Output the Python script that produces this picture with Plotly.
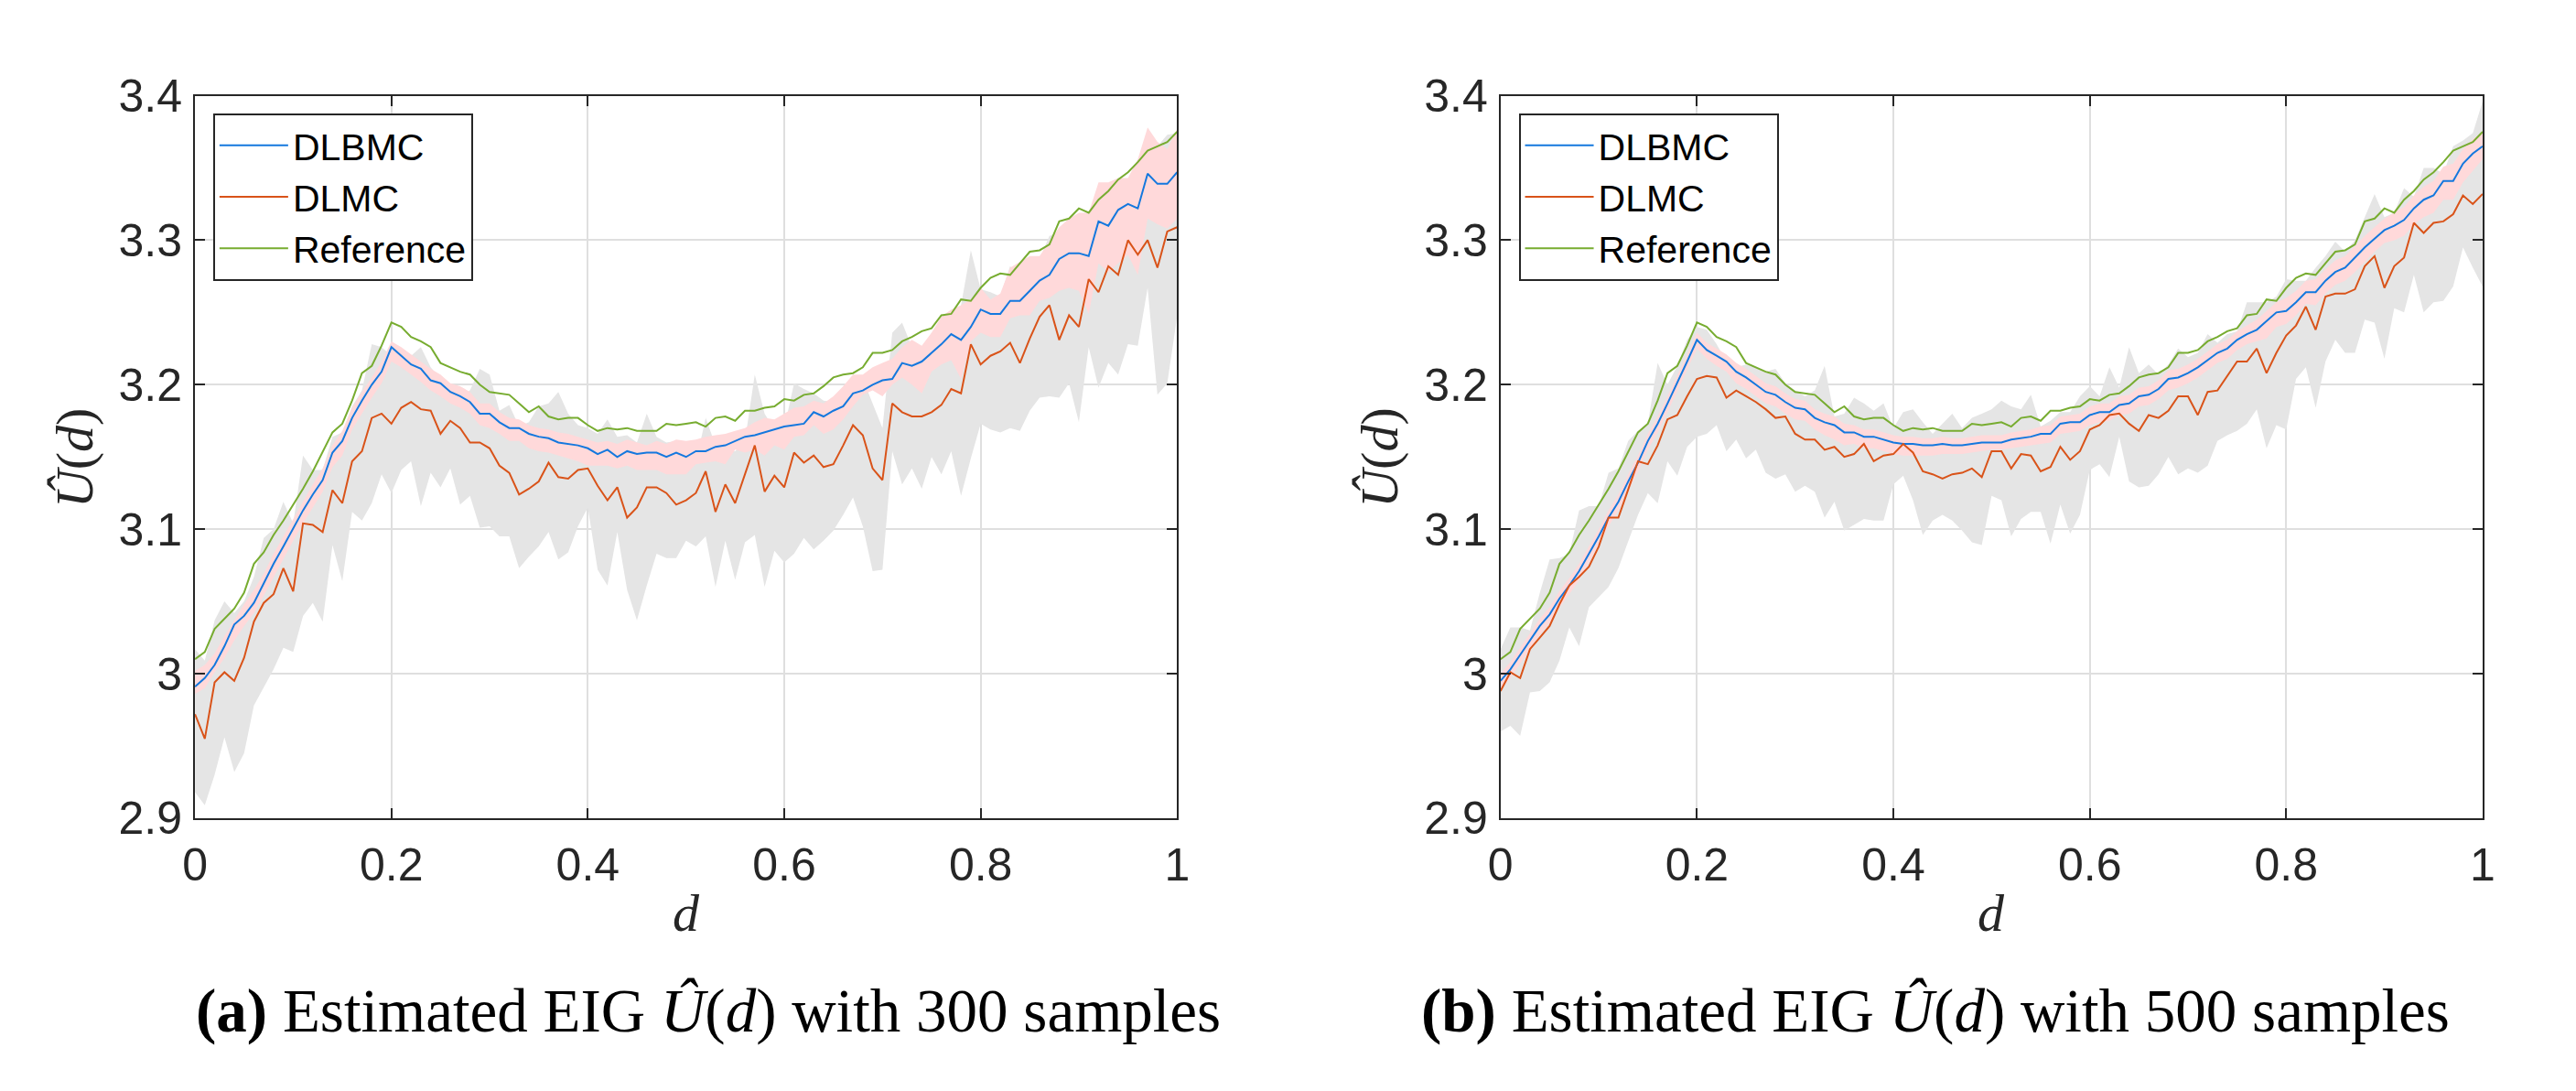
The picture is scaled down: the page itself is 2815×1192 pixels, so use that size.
import plotly.graph_objects as go

# %% data (design d in [0, 1] with step 0.01)
d = [0.00, 0.01, 0.02, 0.03, 0.04, 0.05, 0.06, 0.07, 0.08, 0.09,
     0.10, 0.11, 0.12, 0.13, 0.14, 0.15, 0.16, 0.17, 0.18, 0.19,
     0.20, 0.21, 0.22, 0.23, 0.24, 0.25, 0.26, 0.27, 0.28, 0.29,
     0.30, 0.31, 0.32, 0.33, 0.34, 0.35, 0.36, 0.37, 0.38, 0.39,
     0.40, 0.41, 0.42, 0.43, 0.44, 0.45, 0.46, 0.47, 0.48, 0.49,
     0.50, 0.51, 0.52, 0.53, 0.54, 0.55, 0.56, 0.57, 0.58, 0.59,
     0.60, 0.61, 0.62, 0.63, 0.64, 0.65, 0.66, 0.67, 0.68, 0.69,
     0.70, 0.71, 0.72, 0.73, 0.74, 0.75, 0.76, 0.77, 0.78, 0.79,
     0.80, 0.81, 0.82, 0.83, 0.84, 0.85, 0.86, 0.87, 0.88, 0.89,
     0.90, 0.91, 0.92, 0.93, 0.94, 0.95, 0.96, 0.97, 0.98, 0.99,
     1.00]

reference = [3.010, 3.015, 3.031, 3.038, 3.045, 3.056, 3.076, 3.084, 3.096, 3.106,
             3.117, 3.128, 3.140, 3.154, 3.167, 3.173, 3.189, 3.208, 3.213, 3.227,
             3.243, 3.240, 3.233, 3.230, 3.226, 3.215, 3.212, 3.209, 3.207, 3.200,
             3.195, 3.194, 3.193, 3.187, 3.181, 3.185, 3.178, 3.176, 3.177, 3.177,
             3.172, 3.168, 3.170, 3.169, 3.170, 3.168, 3.168, 3.168, 3.173, 3.172,
             3.173, 3.174, 3.171, 3.177, 3.178, 3.175, 3.182, 3.182, 3.184, 3.185,
             3.190, 3.189, 3.193, 3.194, 3.199, 3.205, 3.207, 3.208, 3.212, 3.222,
             3.222, 3.224, 3.230, 3.233, 3.237, 3.239, 3.248, 3.249, 3.259, 3.258,
             3.267, 3.274, 3.277, 3.276, 3.284, 3.292, 3.293, 3.297, 3.313, 3.315,
             3.322, 3.319, 3.328, 3.334, 3.342, 3.347, 3.354, 3.362, 3.365, 3.368,
             3.375]

# (a) 300 samples
dlbmc_300 = [2.991, 2.997, 3.006, 3.019, 3.034, 3.040, 3.049, 3.063, 3.076, 3.088,
             3.101, 3.113, 3.124, 3.134, 3.153, 3.161, 3.177, 3.189, 3.200, 3.209,
             3.226, 3.220, 3.214, 3.211, 3.203, 3.201, 3.195, 3.192, 3.188, 3.180,
             3.180, 3.174, 3.170, 3.170, 3.166, 3.164, 3.163, 3.160, 3.159, 3.158,
             3.156, 3.152, 3.155, 3.150, 3.154, 3.152, 3.153, 3.153, 3.150, 3.153,
             3.150, 3.154, 3.154, 3.157, 3.158, 3.161, 3.164, 3.165, 3.167, 3.169,
             3.171, 3.172, 3.173, 3.181, 3.178, 3.182, 3.185, 3.194, 3.196, 3.200,
             3.203, 3.204, 3.215, 3.213, 3.216, 3.222, 3.228, 3.235, 3.231, 3.240,
             3.252, 3.249, 3.249, 3.258, 3.258, 3.265, 3.272, 3.276, 3.287, 3.291,
             3.291, 3.289, 3.313, 3.310, 3.321, 3.325, 3.322, 3.346, 3.339, 3.339,
             3.347]
dlmc_300 = [2.972, 2.955, 2.994, 3.001, 2.995, 3.011, 3.036, 3.049, 3.055, 3.073,
            3.057, 3.104, 3.103, 3.098, 3.127, 3.118, 3.147, 3.154, 3.177, 3.180,
            3.173, 3.184, 3.188, 3.183, 3.182, 3.166, 3.175, 3.170, 3.160, 3.160,
            3.156, 3.144, 3.139, 3.124, 3.128, 3.133, 3.146, 3.136, 3.135, 3.141,
            3.142, 3.130, 3.120, 3.129, 3.108, 3.115, 3.129, 3.129, 3.125, 3.117,
            3.120, 3.125, 3.140, 3.112, 3.131, 3.118, 3.138, 3.158, 3.126, 3.137,
            3.129, 3.153, 3.146, 3.151, 3.143, 3.145, 3.158, 3.172, 3.165, 3.142,
            3.134, 3.187, 3.181, 3.178, 3.178, 3.181, 3.186, 3.197, 3.194, 3.228,
            3.214, 3.220, 3.223, 3.229, 3.215, 3.232, 3.247, 3.255, 3.231, 3.248,
            3.240, 3.273, 3.264, 3.282, 3.276, 3.300, 3.290, 3.300, 3.281, 3.306,
            3.309]
dlmc_300_hi = [3.017, 3.009, 3.037, 3.050, 3.042, 3.050, 3.067, 3.094, 3.100, 3.119,
               3.104, 3.151, 3.141, 3.141, 3.164, 3.167, 3.185, 3.196, 3.228, 3.226,
               3.220, 3.222, 3.220, 3.226, 3.212, 3.204, 3.197, 3.192, 3.196, 3.211,
               3.207, 3.182, 3.186, 3.171, 3.174, 3.185, 3.187, 3.195, 3.180, 3.172,
               3.170, 3.166, 3.176, 3.164, 3.165, 3.160, 3.180, 3.164, 3.160, 3.161,
               3.142, 3.146, 3.177, 3.158, 3.155, 3.154, 3.161, 3.207, 3.180, 3.169,
               3.170, 3.201, 3.197, 3.194, 3.189, 3.188, 3.196, 3.204, 3.204, 3.187,
               3.170, 3.236, 3.243, 3.226, 3.215, 3.218, 3.228, 3.240, 3.255, 3.293,
               3.266, 3.264, 3.261, 3.282, 3.274, 3.287, 3.287, 3.303, 3.305, 3.310,
               3.316, 3.315, 3.336, 3.337, 3.340, 3.340, 3.352, 3.375, 3.365, 3.373,
               3.374]
dlmc_300_lo = [2.918, 2.909, 2.930, 2.956, 2.932, 2.945, 2.978, 2.990, 3.003, 3.018,
               3.015, 3.040, 3.049, 3.036, 3.089, 3.064, 3.112, 3.106, 3.118, 3.138,
               3.125, 3.141, 3.147, 3.116, 3.139, 3.129, 3.142, 3.117, 3.123, 3.101,
               3.102, 3.095, 3.095, 3.073, 3.081, 3.088, 3.098, 3.079, 3.084, 3.102,
               3.115, 3.072, 3.061, 3.098, 3.058, 3.037, 3.061, 3.083, 3.080, 3.080,
               3.092, 3.088, 3.095, 3.060, 3.092, 3.065, 3.091, 3.096, 3.060, 3.085,
               3.077, 3.083, 3.094, 3.086, 3.092, 3.099, 3.110, 3.122, 3.102, 3.071,
               3.072, 3.154, 3.131, 3.142, 3.128, 3.150, 3.138, 3.154, 3.123, 3.149,
               3.173, 3.169, 3.167, 3.170, 3.168, 3.182, 3.191, 3.192, 3.191, 3.201,
               3.174, 3.226, 3.198, 3.215, 3.207, 3.228, 3.227, 3.267, 3.193, 3.201,
               3.247]
dlbmc_300_hi = [3.002, 3.006, 3.014, 3.026, 3.037, 3.048, 3.058, 3.069, 3.083, 3.095,
                3.107, 3.119, 3.131, 3.142, 3.158, 3.168, 3.184, 3.195, 3.205, 3.216,
                3.230, 3.226, 3.221, 3.216, 3.211, 3.207, 3.201, 3.199, 3.195, 3.187,
                3.187, 3.181, 3.177, 3.176, 3.172, 3.170, 3.169, 3.167, 3.166, 3.164,
                3.162, 3.160, 3.161, 3.159, 3.162, 3.160, 3.158, 3.161, 3.159, 3.162,
                3.161, 3.162, 3.164, 3.165, 3.166, 3.168, 3.170, 3.174, 3.177, 3.176,
                3.180, 3.184, 3.185, 3.189, 3.187, 3.192, 3.199, 3.207, 3.207, 3.212,
                3.215, 3.218, 3.226, 3.231, 3.227, 3.236, 3.247, 3.252, 3.255, 3.259,
                3.267, 3.259, 3.263, 3.281, 3.285, 3.289, 3.289, 3.299, 3.309, 3.315,
                3.319, 3.319, 3.340, 3.340, 3.343, 3.343, 3.356, 3.378, 3.368, 3.363,
                3.377]
dlbmc_300_lo = [2.986, 2.990, 3.001, 3.011, 3.023, 3.033, 3.042, 3.054, 3.067, 3.079,
                3.092, 3.104, 3.115, 3.126, 3.143, 3.151, 3.169, 3.180, 3.191, 3.201,
                3.216, 3.212, 3.207, 3.202, 3.196, 3.192, 3.187, 3.184, 3.180, 3.172,
                3.170, 3.166, 3.161, 3.161, 3.156, 3.154, 3.153, 3.151, 3.149, 3.147,
                3.144, 3.144, 3.144, 3.142, 3.144, 3.141, 3.141, 3.141, 3.138, 3.138,
                3.138, 3.145, 3.146, 3.147, 3.145, 3.155, 3.153, 3.155, 3.151, 3.158,
                3.155, 3.164, 3.165, 3.172, 3.166, 3.169, 3.176, 3.185, 3.193, 3.196,
                3.192, 3.200, 3.205, 3.200, 3.194, 3.209, 3.214, 3.217, 3.204, 3.230,
                3.236, 3.233, 3.233, 3.246, 3.248, 3.248, 3.258, 3.260, 3.265, 3.267,
                3.265, 3.249, 3.284, 3.278, 3.284, 3.290, 3.276, 3.315, 3.311, 3.308,
                3.315]

# (b) 500 samples
dlbmc_500 = [2.995, 3.003, 3.013, 3.023, 3.033, 3.041, 3.052, 3.061, 3.071, 3.083,
             3.095, 3.108, 3.119, 3.133, 3.146, 3.161, 3.173, 3.187, 3.201, 3.216,
             3.231, 3.224, 3.220, 3.216, 3.209, 3.205, 3.200, 3.195, 3.193, 3.188,
             3.184, 3.183, 3.177, 3.174, 3.172, 3.167, 3.167, 3.164, 3.164, 3.162,
             3.160, 3.159, 3.159, 3.158, 3.158, 3.159, 3.158, 3.158, 3.159, 3.160,
             3.160, 3.160, 3.162, 3.163, 3.164, 3.166, 3.166, 3.173, 3.174, 3.174,
             3.179, 3.181, 3.181, 3.186, 3.187, 3.192, 3.193, 3.197, 3.204, 3.205,
             3.208, 3.212, 3.217, 3.222, 3.225, 3.231, 3.235, 3.238, 3.244, 3.250,
             3.251, 3.257, 3.264, 3.264, 3.272, 3.278, 3.281, 3.288, 3.295, 3.301,
             3.307, 3.310, 3.314, 3.322, 3.328, 3.331, 3.341, 3.341, 3.353, 3.360,
             3.365]
dlmc_500 = [2.988, 3.001, 2.997, 3.017, 3.025, 3.033, 3.048, 3.061, 3.067, 3.074,
            3.088, 3.108, 3.108, 3.127, 3.147, 3.145, 3.158, 3.176, 3.179, 3.192,
            3.204, 3.206, 3.205, 3.191, 3.196, 3.192, 3.188, 3.183, 3.177, 3.178,
            3.166, 3.162, 3.162, 3.155, 3.157, 3.150, 3.152, 3.159, 3.147, 3.151,
            3.152, 3.159, 3.153, 3.140, 3.138, 3.135, 3.138, 3.139, 3.142, 3.136,
            3.154, 3.154, 3.142, 3.152, 3.151, 3.140, 3.143, 3.157, 3.148, 3.154,
            3.169, 3.172, 3.179, 3.180, 3.173, 3.168, 3.179, 3.177, 3.182, 3.192,
            3.192, 3.179, 3.195, 3.196, 3.206, 3.216, 3.216, 3.225, 3.208, 3.222,
            3.234, 3.241, 3.254, 3.238, 3.261, 3.263, 3.263, 3.266, 3.282, 3.289,
            3.267, 3.282, 3.288, 3.312, 3.305, 3.312, 3.313, 3.318, 3.331, 3.325,
            3.332]
dlmc_500_hi = [3.017, 3.032, 3.032, 3.030, 3.056, 3.079, 3.080, 3.083, 3.113, 3.116,
               3.116, 3.139, 3.142, 3.161, 3.168, 3.173, 3.215, 3.200, 3.213, 3.231,
               3.240, 3.238, 3.228, 3.216, 3.212, 3.214, 3.212, 3.209, 3.211, 3.201,
               3.196, 3.192, 3.196, 3.213, 3.178, 3.180, 3.191, 3.187, 3.182, 3.187,
               3.170, 3.181, 3.183, 3.174, 3.166, 3.173, 3.180, 3.170, 3.177, 3.180,
               3.183, 3.189, 3.185, 3.183, 3.193, 3.171, 3.175, 3.181, 3.181, 3.192,
               3.199, 3.192, 3.212, 3.198, 3.226, 3.208, 3.214, 3.207, 3.214, 3.225,
               3.219, 3.222, 3.235, 3.229, 3.235, 3.237, 3.257, 3.257, 3.257, 3.261,
               3.273, 3.272, 3.272, 3.281, 3.289, 3.299, 3.292, 3.300, 3.316, 3.332,
               3.316, 3.319, 3.336, 3.330, 3.350, 3.350, 3.346, 3.365, 3.369, 3.374,
               3.396]
dlmc_500_lo = [2.960, 2.964, 2.957, 2.987, 2.988, 2.994, 3.009, 3.032, 3.019, 3.046,
               3.053, 3.060, 3.073, 3.091, 3.110, 3.125, 3.118, 3.147, 3.137, 3.157,
               3.164, 3.166, 3.172, 3.154, 3.162, 3.149, 3.155, 3.139, 3.135, 3.138,
               3.126, 3.130, 3.126, 3.108, 3.119, 3.099, 3.103, 3.107, 3.106, 3.106,
               3.131, 3.137, 3.120, 3.096, 3.106, 3.110, 3.106, 3.099, 3.091, 3.089,
               3.123, 3.120, 3.095, 3.107, 3.112, 3.112, 3.090, 3.117, 3.097, 3.110,
               3.141, 3.145, 3.136, 3.164, 3.133, 3.129, 3.130, 3.138, 3.150, 3.138,
               3.142, 3.139, 3.144, 3.161, 3.165, 3.168, 3.173, 3.183, 3.156, 3.172,
               3.169, 3.204, 3.212, 3.184, 3.216, 3.231, 3.222, 3.222, 3.245, 3.243,
               3.218, 3.253, 3.250, 3.276, 3.250, 3.257, 3.258, 3.268, 3.295, 3.281,
               3.268]
dlbmc_500_hi = [3.000, 3.008, 3.018, 3.028, 3.038, 3.046, 3.057, 3.066, 3.076, 3.088,
                3.100, 3.113, 3.124, 3.138, 3.151, 3.166, 3.178, 3.192, 3.206, 3.221,
                3.236, 3.229, 3.225, 3.221, 3.215, 3.211, 3.206, 3.201, 3.199, 3.194,
                3.190, 3.189, 3.183, 3.180, 3.178, 3.173, 3.172, 3.169, 3.169, 3.167,
                3.165, 3.164, 3.164, 3.163, 3.163, 3.164, 3.163, 3.163, 3.164, 3.165,
                3.165, 3.165, 3.167, 3.168, 3.169, 3.171, 3.172, 3.178, 3.179, 3.180,
                3.185, 3.187, 3.187, 3.192, 3.193, 3.198, 3.199, 3.203, 3.210, 3.211,
                3.214, 3.218, 3.223, 3.228, 3.231, 3.237, 3.241, 3.245, 3.251, 3.257,
                3.260, 3.265, 3.272, 3.273, 3.280, 3.286, 3.289, 3.296, 3.303, 3.309,
                3.315, 3.319, 3.323, 3.331, 3.337, 3.341, 3.351, 3.353, 3.363, 3.370,
                3.375]
dlbmc_500_lo = [2.989, 2.997, 3.007, 3.017, 3.027, 3.035, 3.046, 3.055, 3.065, 3.077,
                3.089, 3.102, 3.113, 3.127, 3.140, 3.155, 3.167, 3.181, 3.195, 3.210,
                3.225, 3.218, 3.213, 3.209, 3.201, 3.197, 3.192, 3.187, 3.185, 3.180,
                3.176, 3.175, 3.169, 3.165, 3.162, 3.158, 3.159, 3.156, 3.156, 3.154,
                3.152, 3.151, 3.151, 3.151, 3.151, 3.152, 3.152, 3.152, 3.153, 3.154,
                3.155, 3.155, 3.156, 3.157, 3.158, 3.159, 3.160, 3.166, 3.167, 3.168,
                3.172, 3.174, 3.175, 3.179, 3.180, 3.185, 3.186, 3.190, 3.196, 3.198,
                3.201, 3.205, 3.210, 3.215, 3.218, 3.224, 3.228, 3.230, 3.232, 3.240,
                3.242, 3.248, 3.256, 3.255, 3.263, 3.269, 3.272, 3.278, 3.285, 3.292,
                3.298, 3.300, 3.303, 3.311, 3.316, 3.319, 3.328, 3.328, 3.340, 3.348,
                3.356]

x_ticks = [0, 0.2, 0.4, 0.6, 0.8, 1]
y_ticks = [2.9, 3.0, 3.1, 3.2, 3.3, 3.4]
names = ['DLBMC', 'DLMC', 'Reference']
captions = ['<b>(a)</b> Estimated EIG <i>Û</i>(<i>d</i>) with 300 samples',
            '<b>(b)</b> Estimated EIG <i>Û</i>(<i>d</i>) with 500 samples']

# %% style
W, H = 2815, 1192
blue = 'rgb(20,120,222)'
orange = 'rgb(217,83,25)'
green = 'rgb(119,172,48)'
gray_fill = 'rgb(229,229,229)'
pink_fill = 'rgb(255,217,218)'
axis_col = 'rgb(38,38,38)'
sans = 'Liberation Sans, Arial, sans-serif'
serif = 'Liberation Serif, Times New Roman, serif'

panels = [
    dict(xa='x', ya='y', leg='legend',
         mean=dlbmc_300, raw=dlmc_300,
         band_b=(dlbmc_300_hi, dlbmc_300_lo), band_r=(dlmc_300_hi, dlmc_300_lo)),
    dict(xa='x2', ya='y2', leg='legend2',
         mean=dlbmc_500, raw=dlmc_500,
         band_b=(dlbmc_500_hi, dlbmc_500_lo), band_r=(dlmc_500_hi, dlmc_500_lo)),
]

fig = go.Figure()
for p in panels:
    # gray band of DLMC, pink band of DLBMC, then the three curves
    for (hi, lo), col in [(p['band_r'], gray_fill), (p['band_b'], pink_fill)]:
        fig.add_trace(go.Scatter(x=d + d[::-1], y=hi + lo[::-1], fill='toself',
                                 fillcolor=col, line=dict(width=0),
                                 mode='lines', hoverinfo='skip', showlegend=False,
                                 xaxis=p['xa'], yaxis=p['ya']))
    for y, col, nm in [(p['mean'], blue, names[0]), (p['raw'], orange, names[1]),
                       (reference, green, names[2])]:
        fig.add_trace(go.Scatter(x=d, y=y, mode='lines', name=nm,
                                 line=dict(color=col, width=2),
                                 xaxis=p['xa'], yaxis=p['ya'], legend=p['leg']))

# %% axes
x_dom = [[193 / W, 1277 / W], [1634 / W, 2718 / W]]
y_dom = [1 - 901 / H, 1 - 72 / H]
ax_common = dict(showline=True, linecolor=axis_col, linewidth=2, mirror='ticks',
                 ticks='inside', ticklen=11, tickwidth=2, tickcolor=axis_col,
                 showgrid=True, gridcolor='rgb(223,223,223)', gridwidth=1.5,
                 zeroline=False, layer='above traces',
                 tickfont=dict(family=sans, size=50, color=axis_col))
for i, (xk, yk) in enumerate([('xaxis', 'yaxis'), ('xaxis2', 'yaxis2')]):
    anchor_x = 'y' if i == 0 else 'y2'
    anchor_y = 'x' if i == 0 else 'x2'
    fig.update_layout({
        xk: dict(ax_common, domain=x_dom[i], range=[0, 1], tickvals=x_ticks,
                 anchor=anchor_x, ticklabelstandoff=6),
        yk: dict(ax_common, domain=y_dom, range=[2.9, 3.4], tickvals=y_ticks,
                 anchor=anchor_y, ticklabelstandoff=2),
    })

# %% legends
leg_common = dict(xanchor='left', yanchor='top', bgcolor='white',
                  bordercolor=axis_col, borderwidth=2,
                  font=dict(family=sans, size=41, color='black'),
                  itemwidth=75, traceorder='normal')
fig.update_layout(
    legend=dict(leg_common, x=213 / W, y=1 - 92 / H),
    legend2=dict(leg_common, x=1654 / W, y=1 - 92 / H),
)

# %% titles and captions as annotations
ann = []
for i in range(2):
    xc = (x_dom[i][0] + x_dom[i][1]) / 2
    ann.append(dict(text='<i>d</i>', x=xc, y=1 - 1010 / H, xref='paper', yref='paper',
                    xanchor='center', yanchor='middle', showarrow=False,
                    font=dict(family=serif, size=58, color=axis_col)))
    ann.append(dict(text='<i>Û</i>(<i>d</i>)', x=(60 + i * 1441) / W, y=1 - 487 / H,
                    xref='paper', yref='paper', textangle=-90, showarrow=False,
                    xanchor='center', yanchor='middle',
                    font=dict(family=serif, size=58, color=axis_col)))
    ann.append(dict(text=captions[i], x=(760 + i * 1354) / W, y=1 - 1122 / H,
                    xref='paper', yref='paper', showarrow=False,
                    xanchor='center', yanchor='middle',
                    font=dict(family=serif, size=67, color='black')))

fig.update_layout(width=W, height=H, margin=dict(l=0, r=0, t=0, b=0),
                  paper_bgcolor='white', plot_bgcolor='white',
                  annotations=ann, showlegend=True)

fig.write_html("out.html")
